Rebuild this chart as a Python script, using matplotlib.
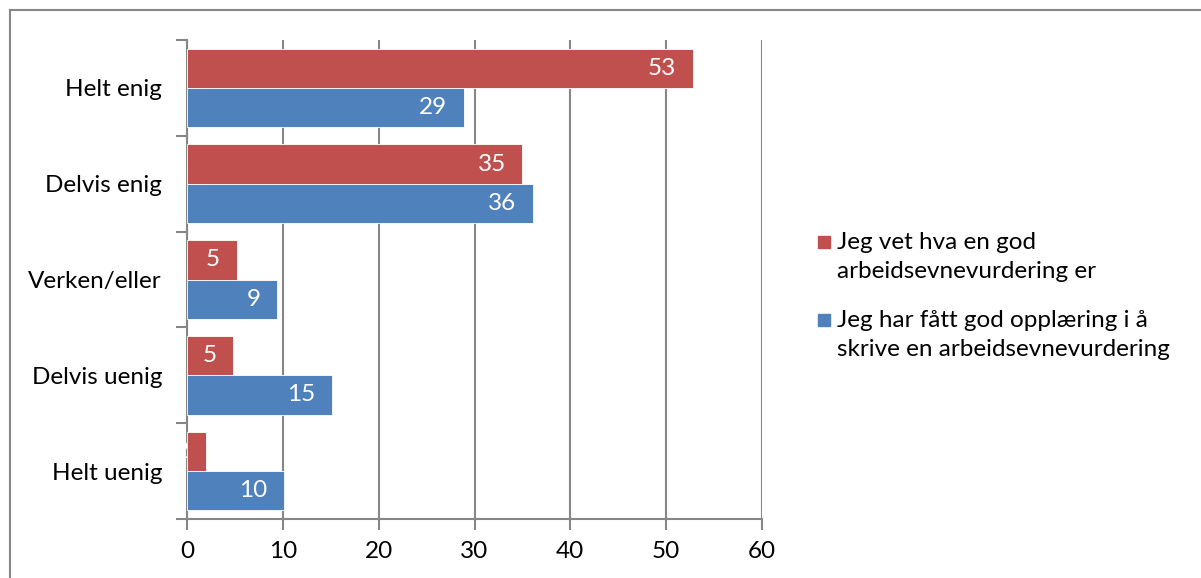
import matplotlib.pyplot as plt
from matplotlib.lines import Line2D
from matplotlib.patches import Rectangle
from matplotlib.transforms import offset_copy

plt.rcParams['font.family'] = ['Lato', 'DejaVu Sans']

categories = ['Helt enig', 'Delvis enig', 'Verken/eller', 'Delvis uenig', 'Helt uenig']
vet_hva = [52.8, 35.0, 5.2, 4.8, 2.0]
opplaering = [28.9, 36.1, 9.4, 15.1, 10.1]
series_names = ['Jeg vet hva en god\narbeidsevnevurdering er',
                'Jeg har fått god opplæring i å\nskrive en arbeidsevnevurdering']
red = '#C0504D'
blue = '#4F81BD'
grey = '#868686'
fs = 17.5

fig = plt.figure(figsize=(12.01, 5.78), dpi=100)
ax = fig.add_axes([187/1201, 1 - 519/578, 575/1201, 479/578])

n = len(categories)
pos = [n - 1 - i for i in range(n)]
h = 0.41

red_bars = ax.barh([p + h/2 for p in pos], vet_hva, height=h, color=red,
                   edgecolor='white', linewidth=0.6, zorder=3)
blue_bars = ax.barh([p - h/2 for p in pos], opplaering, height=h, color=blue,
                    edgecolor='white', linewidth=0.6, zorder=3)

shift = offset_copy(ax.transData, fig=fig, x=-12, y=0, units='points')
for bars, vals in [(red_bars, vet_hva), (blue_bars, opplaering)]:
    for b, v in zip(bars, vals):
        t = ax.text(v, b.get_y() + b.get_height()/2, '%d' % round(v),
                    ha='right', va='center', color='white', fontsize=fs,
                    zorder=4, transform=shift)
        t.set_clip_path(b)

ax.set_xlim(0, 60)
ax.set_ylim(-0.5, n - 0.5)
ax.set_xticks(range(0, 61, 10))
ax.set_yticks(pos)
ax.set_yticklabels(categories)
ax.set_yticks([p + 0.5 for p in range(-1, n)], minor=True)
ax.tick_params(axis='y', which='major', length=0, pad=18, labelsize=fs)
ax.tick_params(axis='y', which='minor', length=8, color=grey, width=1.5)
ax.tick_params(axis='x', length=8, color=grey, width=1.5, labelsize=fs, pad=8)
ax.grid(axis='x', color=grey, linewidth=1.5, zorder=0)
for s in ['top', 'right']:
    ax.spines[s].set_visible(False)
for s in ['left', 'bottom']:
    ax.spines[s].set_color(grey)
    ax.spines[s].set_linewidth(1.5)

# legend drawn by hand to place each entry like the original
for i, (name, col) in enumerate(zip(series_names, [red, blue])):
    y = 1 - (242 + i * 78) / 578
    fig.add_artist(Rectangle((818/1201, y - 6/578), 12/1201, 12/578,
                             transform=fig.transFigure, color=col))
    fig.text(837/1201, y + 10/578, name, fontsize=fs, va='top',
             linespacing=1.45, transform=fig.transFigure)

# outer frame (top and left only visible in the original crop)
fig.add_artist(Line2D([10/1201, 1], [1 - 10/578, 1 - 10/578], color=grey, lw=1.5))
fig.add_artist(Line2D([10/1201, 10/1201], [0, 1 - 10/578], color=grey, lw=1.5))

fig.savefig('out.png', dpi=100)
